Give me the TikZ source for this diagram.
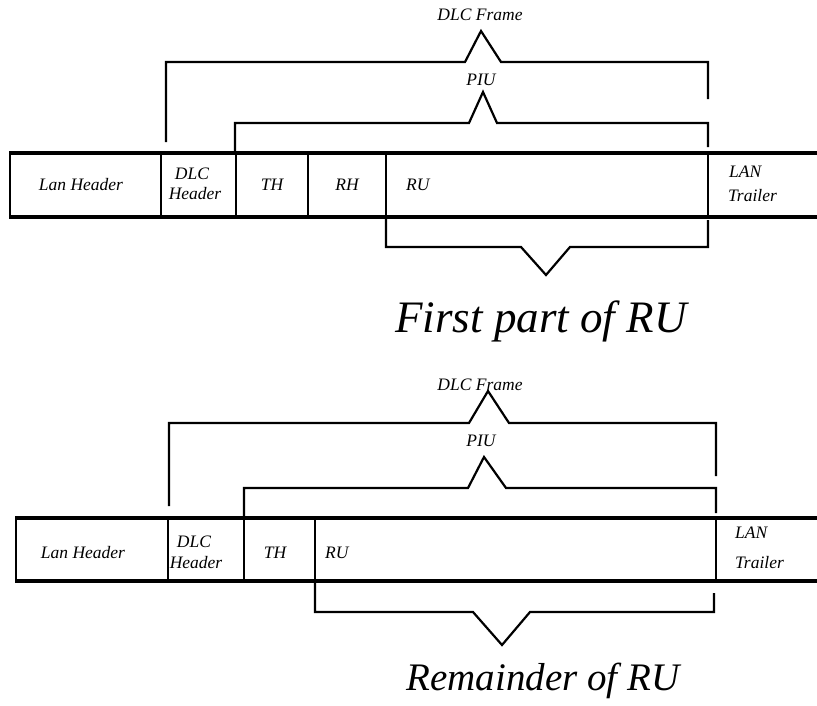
\documentclass[tikz,border=0pt]{standalone}
\usepackage{fontspec}
\setmainfont{Liberation Serif}
\begin{document}
\begin{tikzpicture}[x=1pt,y=-1pt,
  rowline/.style={line width=3.2pt},
  divline/.style={line width=2.6pt},
  edgeline/.style={line width=2pt},
  brk/.style={line width=2.2pt, line join=miter, line cap=butt},
  lbl/.style={font=\itshape\fontsize{17.5}{18}\selectfont, inner sep=0pt},
  biglbl/.style={inner sep=0pt, anchor=base}]
\useasboundingbox (0,0) rectangle (817,705);

% ================= upper diagram =================
% row frame
\draw[rowline] (9,153) -- (817,153);
\draw[rowline] (9,217) -- (817,217);
\draw[edgeline] (10,153) -- (10,217);
\foreach \x in {161,236,308,386,708} \draw[divline] (\x,153) -- (\x,217);

% labels in the row
\node[lbl] (lanA) at (81,185) {Lan Header};
\node[lbl] (dlcA) at (192,174) {DLC};
\node[lbl] (dlchA) at (195,194) {Header};
\node[lbl] (thA) at (272,185) {TH};
\node[lbl] (rhA) at (347,185) {RH};
\node[lbl, anchor=west] (ruA) at (406,185) {RU};
\node[lbl, anchor=west] (lanTA) at (729,172) {LAN};
\node[lbl, anchor=west] (trA) at (728,196) {Trailer};

% DLC Frame bracket
\draw[brk] (166,142) -- (166,62) -- (465,62) -- (481,31) -- (501,62) -- (708,62) -- (708,99);
\node[lbl] (dlcfA) at (480,15) {DLC Frame};
% PIU bracket
\draw[brk] (235,151) -- (235,123) -- (469,123) -- (483,92) -- (497,123) -- (708,123) -- (708,147);
\node[lbl] (piuA) at (481,80) {PIU};
% RU bracket below
\draw[brk] (386,217) -- (386,247) -- (521,247) -- (546,275) -- (570,247) -- (708,247) -- (708,220);
\node[biglbl, font=\itshape\fontsize{45}{48}\selectfont] (firstA) at (541,332) {First part of RU};

% ================= lower diagram =================
\draw[rowline] (15,518) -- (817,518);
\draw[rowline] (15,581) -- (817,581);
\draw[edgeline] (16,518) -- (16,581);
\foreach \x in {168,244,315,716} \draw[divline] (\x,518) -- (\x,581);

\node[lbl] (lanB) at (83,553) {Lan Header};
\node[lbl] (dlcB) at (194,542) {DLC};
\node[lbl] (dlchB) at (196,563) {Header};
\node[lbl] (thB) at (275,553) {TH};
\node[lbl, anchor=west] (ruB) at (325,553) {RU};
\node[lbl, anchor=west] (lanTB) at (735,533) {LAN};
\node[lbl, anchor=west] (trB) at (735,563) {Trailer};

% DLC Frame bracket
\draw[brk] (169,506) -- (169,423) -- (469,423) -- (488,391) -- (509,423) -- (716,423) -- (716,476);
\node[lbl] (dlcfB) at (480,385) {DLC Frame};
% PIU bracket
\draw[brk] (244,518) -- (244,488) -- (468,488) -- (484,457) -- (506,488) -- (716,488) -- (716,513);
\node[lbl] (piuB) at (481,441) {PIU};
% RU bracket below
\draw[brk] (315,583) -- (315,612) -- (473,612) -- (502,645) -- (530,612) -- (714,612) -- (714,593);
\node[biglbl, font=\itshape\fontsize{39}{42}\selectfont] (remB) at (543,690) {Remainder of RU};
\end{tikzpicture}
\end{document}
